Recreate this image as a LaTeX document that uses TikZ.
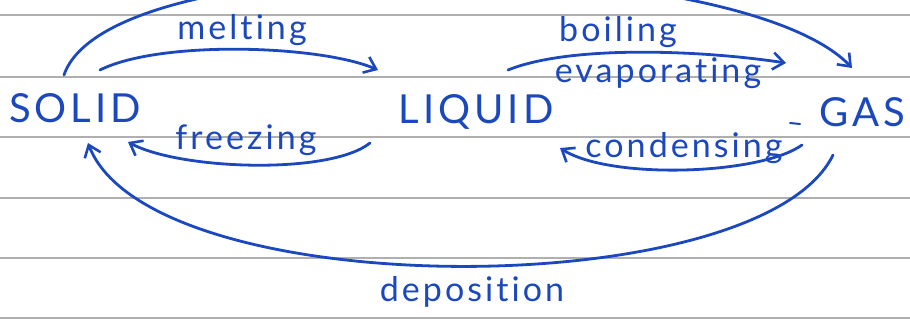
\documentclass[tikz,border=0pt]{standalone}
\usepackage{fontspec}
\setmainfont{Lato}
\newfontfamily\stateface[LetterSpace=10,Ligatures={NoCommon}]{Lato}
\newfontfamily\procface[LetterSpace=9,Ligatures={NoCommon}]{Lato}
\usetikzlibrary{arrows.meta}
\definecolor{ink}{RGB}{28,72,190}
\definecolor{rule}{RGB}{175,175,175}
\tikzset{
  state/.style={text=ink, font=\stateface\fontsize{40}{40}\selectfont, inner sep=0pt},
  proc/.style={text=ink, font=\procface\fontsize{34}{34}\selectfont, inner sep=0pt},
  pen/.style={draw=ink, line width=2.8pt, line cap=round,
    -{Straight Barb[length=11pt,width=17pt,line width=2.6pt]}},
  ruling/.style={draw=rule, line width=1.3pt}
}
\begin{document}
\begin{tikzpicture}[x=1pt,y=-1pt]
\useasboundingbox (0,0) rectangle (910,320);
\fill[white] (0,0) rectangle (910,320);
% ruled paper
\foreach \yy in {15,77,137,198,258,318}
  \draw[ruling] (0,\yy) -- (910,\yy);

% states
\node[state] (solid) at (75,108) {SOLID};
\node[state] (liquid) at (476,112) {LIQUID};
\node[state] (gas) at (862,112) {GAS};

% process labels
\node[proc] (melt) at (242,30) {melting};
\node[proc] (boil) at (618,32) {boiling};
\node[proc] (evap) at (658,73) {evaporating};
\node[proc] (freeze) at (246,140) {freezing};
\node[proc] (cond) at (684,148) {condensing};
\node[proc] (depo) at (472,292) {deposition};

% anchor points for the arrows
\coordinate (m1) at (100,70);  \coordinate (m2) at (378,70);
\coordinate (b1) at (508,70);  \coordinate (b2) at (786,63);
\coordinate (s1) at (64,75);   \coordinate (s2) at (852,68);
\coordinate (f1) at (370,143); \coordinate (f2) at (128,142);
\coordinate (c1) at (802,145); \coordinate (c2) at (560,148);
\coordinate (d1) at (833,155); \coordinate (d2) at (88,143);
\coordinate (dash1) at (790,123); \coordinate (dash2) at (800,124);

% melting
\draw[pen] (m1) .. controls (160,40) and (320,45) .. (m2);
% boiling / evaporating
\draw[pen] (b1) .. controls (570,45) and (700,50) .. (b2);
% sublimation arc over the top
\draw[pen] (s1) .. controls (110,-60) and (740,-50) .. (s2);
% freezing
\draw[pen] (f1) .. controls (330,175) and (180,170) .. (f2);
% condensing
\draw[pen] (c1) .. controls (760,175) and (610,180) .. (c2);
% deposition
\draw[pen] (d1) .. controls (760,305) and (150,305) .. (d2);

% stray pen mark
\draw[draw=ink, line width=2pt, line cap=round] (dash1) -- (dash2);
\end{tikzpicture}
\end{document}
